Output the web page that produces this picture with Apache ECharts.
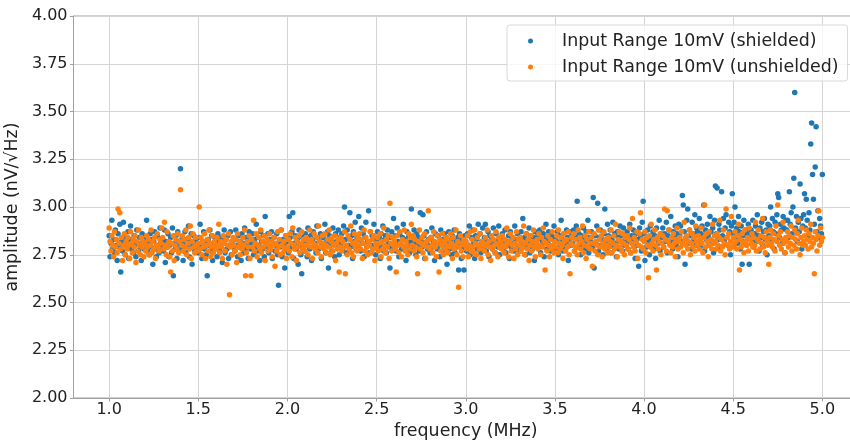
<!DOCTYPE html>
<html>
<head>
<meta charset="utf-8">
<script src="https://cdn.jsdelivr.net/npm/echarts@6/dist/echarts.min.js"></script>
<style>
html,body{margin:0;padding:0;background:#fff;}
#chart{width:850px;height:443px;}
</style>
</head>
<body>
<div id="chart"></div>
<script>
// Frequency sweep grid (MHz)
const freqStartMHz = 1.0;
const freqStepMHz = 0.005;

// Tick labels
const xTicks = [1.0, 1.5, 2.0, 2.5, 3.0, 3.5, 4.0, 4.5, 5.0];
const yTicks = [2.00, 2.25, 2.50, 2.75, 3.00, 3.25, 3.50, 3.75, 4.00];

const seriesNames = ['Input Range 10mV (shielded)', 'Input Range 10mV (unshielded)'];

// amplitude (nV/√Hz), shielded
const shielded = [
2.85,2.74,2.81,2.93,2.78, 2.83,2.76,2.88,2.80,2.72, 2.86,2.79,2.91,2.66,2.82, 2.77,2.92,2.84,2.75,2.81,
2.79,2.87,2.73,2.83,2.90, 2.78,2.82,2.76,2.85,2.80, 2.74,2.88,2.81,2.77,2.84, 2.79,2.72,2.86,2.82,2.78,
2.80,2.84,2.93,2.77,2.81, 2.75,2.86,2.79,2.83,2.70, 2.82,2.87,2.78,2.74,2.85, 2.80,2.76,2.89,2.81,2.79,
2.83,2.77,2.88,2.71,2.82, 2.79,2.86,2.74,2.80,2.84, 2.76,2.89,2.64,2.81,2.78, 2.85,2.73,2.87,2.80,2.82,
3.20,2.78,2.84,2.72,2.81, 2.87,2.76,2.83,2.79,2.90, 2.74,2.82,2.86,2.70,2.80, 2.85,2.77,2.83,2.79,2.81,
2.76,2.84,2.91,2.79,2.73, 2.82,2.87,2.78,2.81,2.75, 2.64,2.83,2.80,2.88,2.77, 2.85,2.72,2.81,2.79,2.84,
2.80,2.74,2.86,2.82,2.77, 2.79,2.84,2.71,2.81,2.88, 2.76,2.83,2.78,2.85,2.73, 2.80,2.87,2.75,2.82,2.79,
2.83,2.77,2.88,2.80,2.74, 2.85,2.79,2.82,2.72,2.86, 2.81,2.76,2.89,2.78,2.84, 2.80,2.73,2.87,2.82,2.78,
2.81,2.86,2.75,2.83,2.79, 2.91,2.77,2.84,2.80,2.72, 2.87,2.82,2.78,2.85,2.74, 2.95,2.81,2.79,2.86,2.76,
2.83,2.78,2.87,2.73,2.81, 2.84,2.77,2.80,2.86,2.75, 2.59,2.82,2.79,2.88,2.74, 2.83,2.80,2.68,2.85,2.78,
2.82,2.76,2.95,2.84,2.79, 2.87,2.97,2.73,2.81,2.85, 2.78,2.83,2.70,2.88,2.80, 2.75,2.65,2.84,2.81,2.77,
2.86,2.80,2.74,2.89,2.82, 2.78,2.85,2.72,2.83,2.87, 2.79,2.81,2.76,2.90,2.84, 2.78,2.82,2.86,2.73,2.80,
2.84,2.79,2.91,2.76,2.82, 2.87,2.68,2.85,2.80,2.83, 2.77,2.89,2.81,2.74,2.86, 2.82,2.79,2.88,2.75,2.84,
2.81,2.86,2.78,2.90,3.00, 2.83,2.76,2.88,2.80,2.84, 2.97,2.79,2.85,2.73,2.87, 2.82,2.92,2.78,2.84,2.80,
2.95,2.83,2.77,2.89,2.81, 2.86,2.74,2.84,2.92,2.79, 2.82,2.98,2.76,2.87,2.80, 2.85,2.78,2.91,2.83,2.75,
2.82,2.87,2.79,2.84,2.73, 2.86,2.80,2.90,2.77,2.83, 2.85,2.76,2.88,2.81,2.79, 2.68,2.84,2.87,2.78,2.94,
2.80,2.85,2.77,2.89,2.82, 2.74,2.86,2.81,2.78,2.84, 2.91,2.79,2.83,2.72,2.87, 2.80,2.85,2.76,2.82,2.99,
2.83,2.78,2.88,2.81,2.75, 2.86,2.80,2.84,2.77,2.97, 2.82,2.79,2.96,2.85,2.73, 2.81,2.87,2.78,2.83,2.80,
2.76,2.84,2.89,2.79,2.82, 2.72,2.86,2.81,2.78,2.85, 2.80,2.74,2.88,2.83,2.77, 2.82,2.86,2.79,2.84,2.70,
2.81,2.87,2.78,2.83,2.75, 2.85,2.80,2.88,2.76,2.82, 2.79,2.84,2.67,2.86,2.81, 2.73,2.83,2.78,2.67,2.85,
2.82,2.77,2.86,2.80,2.90, 2.75,2.84,2.79,2.88,2.81, 2.73,2.85,2.83,2.78,2.91, 2.80,2.86,2.76,2.82,2.89,
2.79,2.84,2.91,2.77,2.82, 2.87,2.74,2.85,2.80,2.83, 2.78,2.89,2.81,2.76,2.86, 2.82,2.79,2.90,2.75,2.84,
2.81,2.86,2.78,2.83,2.88, 2.76,2.82,2.80,2.85,2.73, 2.87,2.79,2.84,2.81,2.77, 2.90,2.83,2.78,2.86,2.80,
2.83,2.77,2.87,2.81,2.94, 2.79,2.84,2.75,2.86,2.82, 2.80,2.89,2.76,2.85,2.81, 2.78,2.84,2.72,2.87,2.82,
2.80,2.85,2.79,2.88,2.76, 2.83,2.81,2.86,2.74,2.84, 2.91,2.78,2.82,2.87,2.80, 2.77,2.85,2.83,2.79,2.90,
2.84,2.78,2.82,2.87,2.75, 2.85,2.80,2.93,2.83,2.77, 2.86,2.81,2.79,2.88,2.84, 2.72,2.82,2.87,2.80,2.85,
2.81,2.88,2.77,2.84,2.90, 3.03,2.79,2.86,2.82,2.75, 2.85,2.80,2.89,2.83,2.78, 2.87,2.81,2.93,2.76,2.84,
2.82,2.87,2.79,3.05,2.68, 2.85,2.81,2.90,3.02,2.77, 2.84,2.88,2.80,2.83,2.75, 2.86,2.99,2.82,2.78,2.91,
2.85,2.80,2.88,2.76,2.83, 2.92,2.79,2.86,2.81,2.74, 2.87,2.84,2.78,2.90,2.82, 2.85,2.77,2.89,2.80,2.83,
2.81,2.87,2.78,2.84,2.91, 2.76,2.85,2.82,2.88,2.79, 2.73,2.86,2.83,2.80,2.69, 2.89,2.84,2.77,2.92,3.03,
2.86,2.72,2.83,2.79,2.88, 2.82,2.75,2.90,2.84,2.80, 2.87,2.78,2.85,2.73,2.89, 2.83,2.81,2.93,2.77,2.86,
2.84,2.89,2.79,2.86,2.82, 2.92,2.76,2.85,2.88,2.81, 2.95,2.83,2.78,2.87,2.84, 2.90,2.80,2.86,2.74,2.91,
2.85,2.90,2.82,3.06,3.01, 2.87,2.70,2.84,2.93,2.99, 2.81,2.88,2.85,2.78,2.92, 2.86,2.83,2.96,2.80,2.89,
2.87,2.82,2.94,2.79,2.86, 2.90,2.84,3.01,2.77,2.88, 2.83,2.91,2.85,2.80,2.95, 2.87,2.82,2.89,2.76,2.93,
3.11,2.86,3.10,2.83,2.91, 2.88,2.79,3.08,2.85,2.94, 2.82,2.89,2.96,2.84,2.80, 2.92,2.87,2.75,2.90,3.07,
2.86,2.92,3.00,2.84,2.89, 2.81,2.95,2.87,2.78,2.90, 2.70,2.85,2.93,2.82,2.88, 2.80,2.86,2.91,2.70,2.84,
2.88,2.83,2.93,2.79,2.86, 2.90,2.82,2.96,2.85,2.77, 2.89,2.84,2.92,2.80,2.87, 2.94,2.83,2.88,2.75,2.91,
2.85,2.90,3.00,2.83,2.94, 2.87,2.78,2.92,2.86,2.96, 3.07,3.05,2.84,2.91,2.88, 2.81,2.95,2.89,2.76,2.93,
2.88,2.93,2.84,3.08,2.91, 2.97,2.86,3.00,3.15,3.60, 2.89,2.95,2.82,2.92,2.87, 3.12,2.94,2.78,2.90,2.96,
3.07,2.89,3.04,2.93,2.85, 2.97,2.88,3.33,3.44,3.17, 3.04,2.91,3.21,3.42,2.87, 2.98,2.84,2.94,2.90,2.86,
3.17
];

// amplitude (nV/√Hz), unshielded
const unshielded = [
2.89,2.82,2.77,2.85,2.80, 2.74,2.87,2.79,2.83,2.76, 2.99,2.81,2.97,2.78,2.84, 2.72,2.80,2.86,2.75,2.82,
2.78,2.84,2.80,2.73,2.87, 2.81,2.76,2.83,2.79,2.85, 2.71,2.82,2.77,2.88,2.80, 2.75,2.84,2.79,2.82,2.74,
2.81,2.77,2.85,2.79,2.83, 2.75,2.80,2.88,2.76,2.82, 2.78,2.84,2.73,2.80,2.86, 2.79,2.77,2.83,2.81,2.89,
2.84,2.78,2.92,2.80,2.75, 2.87,2.79,2.82,2.74,2.66, 2.81,2.77,2.85,2.72,2.80, 2.83,2.78,2.86,2.76,2.82,
3.09,2.80,2.85,2.77,2.83, 2.79,2.88,2.75,2.81,2.84, 2.78,2.90,2.73,2.82,2.86, 2.79,2.76,2.84,2.80,2.77,
2.81,3.00,2.78,2.84,2.75, 2.82,2.79,2.86,2.73,2.80, 2.83,2.77,2.88,2.81,2.74, 2.79,2.85,2.76,2.82,2.80,
2.78,2.84,2.80,2.91,2.76, 2.82,2.79,2.73,2.85,2.81, 2.77,2.83,2.70,2.80,2.86, 2.54,2.79,2.82,2.75,2.84,
2.80,2.77,2.83,2.71,2.86, 2.79,2.82,2.75,2.81,2.78, 2.84,2.80,2.88,2.64,2.76, 2.82,2.79,2.85,2.73,2.64,
2.83,2.79,2.93,2.77,2.81, 2.86,2.74,2.80,2.84,2.78, 2.88,2.76,2.82,2.79,2.85, 2.72,2.81,2.83,2.77,2.80,
2.86,2.78,2.82,2.74,2.80, 2.84,2.69,2.81,2.77,2.87, 2.79,2.83,2.75,2.88,2.80, 2.76,2.82,2.78,2.85,2.73,
2.79,2.83,2.77,2.86,2.81, 2.74,2.89,2.80,2.78,2.84, 2.72,2.82,2.79,2.85,2.76, 2.81,2.87,2.78,2.83,2.80,
2.77,2.84,2.80,2.75,2.82, 2.88,2.79,2.83,2.73,2.81, 2.86,2.78,2.80,2.84,2.76, 2.90,2.82,2.79,2.74,2.85,
2.81,2.78,2.86,2.80,2.76, 2.83,2.79,2.88,2.75,2.82, 2.84,2.77,2.80,2.85,2.72, 2.81,2.78,2.83,2.66,2.79,
2.84,2.77,2.82,2.79,2.87, 2.65,2.80,2.75,2.85,2.78, 2.83,2.90,2.76,2.81,2.74, 2.86,2.79,2.82,2.77,2.84,
2.80,2.86,2.78,2.83,2.73, 2.81,2.88,2.77,2.84,2.79, 2.75,2.82,2.80,2.87,2.76, 2.83,2.78,2.85,2.72,2.81,
2.79,2.84,2.77,2.81,2.86, 2.74,2.82,2.78,2.89,2.80, 2.76,2.83,2.79,2.85,2.73, 3.02,2.81,2.77,2.84,2.80,
2.82,2.78,2.66,2.85,2.80, 2.76,2.87,2.81,2.74,2.83, 2.79,2.88,2.77,2.82,2.80, 2.75,2.86,2.78,2.84,2.91,
2.80,2.85,2.77,2.83,2.79, 2.74,2.65,2.82,2.88,2.78, 2.81,2.84,2.76,2.80,2.86, 2.73,2.82,2.79,2.98,2.83,
2.78,2.84,2.80,2.76,2.87, 2.82,2.79,2.74,2.85,2.81, 2.66,2.83,2.77,2.80,2.86, 2.75,2.82,2.78,2.84,2.80,
2.76,2.83,2.79,2.86,2.81, 2.73,2.84,2.78,2.80,2.88, 2.75,2.82,2.58,2.79,2.85, 2.77,2.81,2.74,2.83,2.80,
2.82,2.78,2.85,2.74,2.80, 2.87,2.77,2.83,2.79,2.76, 2.88,2.81,2.75,2.84,2.80, 2.78,2.86,2.73,2.82,2.79,
2.81,2.77,2.84,2.80,2.88, 2.75,2.82,2.79,2.72,2.85, 2.78,2.83,2.80,2.76,2.87, 2.81,2.74,2.84,2.79,2.82,
2.78,2.85,2.80,2.76,2.83, 2.79,2.89,2.81,2.74,2.82, 2.86,2.77,2.80,2.84,2.73, 2.81,2.78,2.87,2.75,2.83,
2.80,2.84,2.77,2.82,2.79, 2.90,2.75,2.81,2.86,2.78, 2.83,2.72,2.80,2.85,2.77, 2.82,2.88,2.79,2.74,2.81,
2.83,2.78,2.86,2.80,2.75, 2.84,2.79,2.89,2.82,2.67, 2.81,2.77,2.85,2.80,2.74, 2.83,2.78,2.87,2.80,2.76,
2.82,2.79,2.85,2.76,2.88, 2.81,2.78,2.84,2.80,2.73, 2.86,2.82,2.77,2.83,2.79, 2.87,2.75,2.65,2.81,2.84,
2.80,2.86,2.77,2.83,2.79, 2.75,2.88,2.81,2.84,2.78, 2.82,2.90,2.76,2.80,2.85, 2.73,2.83,2.79,2.87,2.81,
2.78,2.84,2.69,2.81,2.86, 2.77,2.82,2.80,2.75,2.88, 2.83,2.79,2.85,2.74,2.81, 2.87,2.78,2.83,2.80,2.76,
2.84,2.79,2.82,2.88,2.76, 2.81,2.85,2.78,2.91,2.80, 2.74,2.83,2.87,2.79,2.82, 2.77,2.86,2.81,2.75,2.84,
2.80,2.85,2.78,2.83,2.89, 2.76,2.81,2.94,2.79,2.84, 2.77,2.82,2.87,2.73,2.80, 2.86,2.97,2.79,2.83,2.78,
2.82,2.87,2.76,2.84,2.80, 2.63,2.85,2.79,2.91,2.81, 2.77,2.83,2.88,2.80,2.67, 2.84,2.78,2.82,2.86,2.75,
2.81,2.85,2.79,2.99,2.83, 2.77,2.98,2.82,2.88,2.80, 2.76,2.84,2.79,2.86,2.81, 2.74,2.83,2.89,2.78,2.82,
2.84,2.79,2.87,2.81,2.76, 2.92,2.83,2.80,2.85,2.78, 2.82,2.88,2.75,2.81,2.86, 2.79,2.84,2.77,2.90,2.82,
2.80,2.85,2.78,2.83,2.89, 2.81,2.76,2.84,3.01,2.79, 2.86,2.82,2.74,2.87,2.80, 2.83,2.78,2.91,2.81,2.85,
2.82,2.78,2.86,2.80,2.84, 2.93,2.77,2.83,2.79,2.88, 2.81,2.75,2.99,2.84,2.80, 2.86,2.78,2.82,2.95,2.79,
2.84,2.80,2.87,2.82,2.78, 2.85,2.91,2.67,2.83,2.79, 2.86,2.81,2.76,2.88,2.82, 2.80,2.84,2.77,2.89,2.83,
2.81,2.86,2.79,2.84,2.80, 2.92,2.77,2.83,2.88,2.82, 2.78,2.85,2.81,2.94,2.79, 2.84,2.76,2.87,2.82,2.80,
2.70,2.84,2.88,2.81,2.79, 2.86,2.83,2.77,2.90,2.82, 3.01,2.85,2.80,2.87,2.78, 2.83,2.92,2.81,2.76,2.84,
2.82,2.87,2.79,2.85,2.81, 2.90,2.77,2.84,2.80,2.88, 2.83,2.78,2.86,2.93,2.81, 2.75,2.84,2.89,2.80,2.82,
2.85,2.80,2.88,2.83,2.78, 2.86,2.82,2.91,2.79,2.84, 2.81,2.65,2.87,2.83,2.77, 2.85,2.98,2.80,2.89,2.82,
2.84
];

function pairs(values) {
  return values.map(function (v, i) {
    return [+(freqStartMHz + freqStepMHz * i).toFixed(3), v];
  });
}

const FONT = 'DejaVu Sans';
const TXT = '#222';
const SPINE = '#a0a0a0';
const GRIDC = '#d4d4d4';

const chart = echarts.init(document.getElementById('chart'), null, {renderer: 'canvas'});
chart.setOption({
  animation: false,
  backgroundColor: '#fff',
  textStyle: {fontFamily: FONT},
  grid: {
    left: 73.5, top: 16, right: -8, bottom: 45,
    outerBoundsMode: 'none', containLabel: false,
    show: true, borderColor: SPINE, borderWidth: 1, backgroundColor: 'transparent'
  },
  legend: {
    data: seriesNames,
    orient: 'vertical',
    left: 507, top: 25,
    padding: [6, 9, 4, 21],
    itemWidth: 5, itemHeight: 5, itemGap: 6,
    icon: 'circle',
    backgroundColor: 'rgba(255,255,255,0.8)',
    borderColor: '#d8d8d8', borderWidth: 1, borderRadius: 3,
    textStyle: {fontFamily: FONT, fontSize: 17.4, color: TXT, lineHeight: 20, padding: [0, 0, 0, 24]}
  },
  xAxis: {
    type: 'value', min: 0.8, max: 5.2,
    name: 'frequency (MHz)', nameLocation: 'middle', nameGap: 20,
    nameTextStyle: {fontFamily: FONT, fontSize: 17.4, color: TXT},
    axisLine: {show: true, lineStyle: {color: SPINE, width: 1}},
    axisTick: {show: true, length: 3.5, lineStyle: {color: SPINE}, customValues: xTicks},
    axisLabel: {customValues: xTicks, fontFamily: FONT, fontSize: 16, color: TXT, margin: 4,
      formatter: function (v) { return v.toFixed(1); }},
    splitLine: {show: true, lineStyle: {color: GRIDC, width: 1}}
  },
  yAxis: {
    type: 'value', min: 2, max: 4, interval: 0.25,
    name: 'amplitude (nV/√Hz)', nameLocation: 'middle', nameGap: 41,
    nameTextStyle: {fontFamily: FONT, fontSize: 17.4, color: TXT},
    axisLine: {show: true, lineStyle: {color: SPINE, width: 1}},
    axisTick: {show: true, length: 3.5, lineStyle: {color: SPINE}},
    axisLabel: {fontFamily: FONT, fontSize: 16, color: TXT, margin: 6,
      formatter: function (v) { return v.toFixed(2); }},
    splitLine: {show: true, lineStyle: {color: GRIDC, width: 1}}
  },
  series: [
    {
      name: seriesNames[0], type: 'scatter', symbol: 'circle', symbolSize: 5.5,
      itemStyle: {color: '#1f77b4', opacity: 1},
      data: pairs(shielded)
    },
    {
      name: seriesNames[1], type: 'scatter', symbol: 'circle', symbolSize: 5.5,
      itemStyle: {color: '#ff7f0e', opacity: 1},
      data: pairs(unshielded)
    }
  ]
});
</script>
</body>
</html>
